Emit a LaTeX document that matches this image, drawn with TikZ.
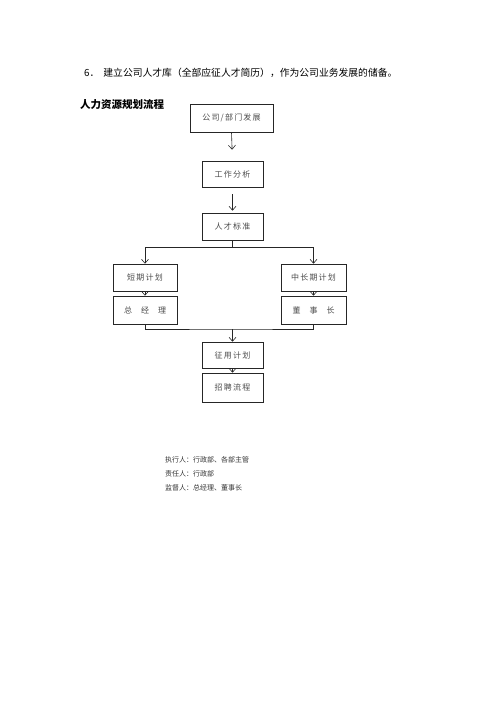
\documentclass[tikz,border=0pt]{standalone}
\usepackage{fontspec}
\usetikzlibrary{arrows.meta}
\newfontfamily\cjk{Noto Sans CJK SC}
\newfontfamily\cjkbox[LetterSpace=15]{Noto Sans CJK SC}
\tikzset{
	caja/.style={draw=black!85, line width=0.6pt, minimum width=61pt, minimum height=27pt, inner sep=0pt, font=\cjkbox\fontsize{8}{10}\selectfont, text=black!70},
	flecha/.style={-{Straight Barb[length=4pt, width=7pt]}, draw=black!85, line width=0.6pt},
	linea/.style={draw=black!85, line width=0.6pt}
}
\begin{document}
\begin{tikzpicture}[x=1pt, y=-1pt]
	% Fondo blanco de la pagina 0..500 x 0..707
	\fill[white] (0,0) rectangle (500,707);
	\useasboundingbox (0,0) rectangle (500,707);
	
	% Texto superior y titulo
	\node[anchor=west, inner sep=0pt, font=\cjk\fontsize{9.8}{12}\selectfont] (punto) at (84,73) {6．\hspace{4pt}建立公司人才库（全部应征人才简历），作为公司业务发展的储备。};
	\node[anchor=west, inner sep=0pt, font=\cjk\bfseries\fontsize{10.5}{12}\selectfont] (titulo) at (80,105) {人力资源规划流程};
	
	% Cajas del flujo
	\node[caja, minimum width=83pt, minimum height=28pt] (desarrollo) at (231.5,118) {公司/部门发展};
	\node[caja, minimum height=26pt] (analisis) at (232.5,174) {工作分析};
	\node[caja] (estandar) at (232.5,226.5) {人才标准};
	\node[caja, minimum width=64pt] (corto) at (145,277.5) {短期计划};
	\node[caja, minimum width=64pt, minimum height=28pt] (gerente) at (145,310) {总\hspace{9pt}经\hspace{9pt}理};
	\node[caja, minimum width=65pt] (largo) at (313.5,277.5) {中长期计划};
	\node[caja, minimum width=65pt, minimum height=28pt] (junta) at (313.5,310) {董\hspace{9pt}事\hspace{9pt}长};
	\node[caja, minimum height=26pt] (plan) at (232.5,355) {征用计划};
	\node[caja, minimum height=29pt] (proceso) at (232.5,387.5) {招聘流程};
	
	% Puntos de division y union
	\coordinate (division) at (232.5,247);
	\coordinate (union) at (232.5,329);
	
	% Flechas
	\draw[flecha, shorten >=11pt] (desarrollo.south) -- (analisis.north);
	\draw[flecha, shorten <=7pt, shorten >=2pt] (analisis.south) -- (estandar.north);
	\draw[linea] (estandar.south) -- (division);
	\draw[flecha] (division) -| (corto.north);
	\draw[flecha] (division) -| (largo.north);
	\draw[flecha] (corto.south) -- (gerente.north);
	\draw[flecha] (largo.south) -- (junta.north);
	\draw[linea] (gerente.south) |- (union) -| (junta.south);
	\draw[flecha] (union) -- (plan.north);
	\draw[flecha] (plan.south) -- (proceso.north);
	
	% Responsables
	\node[anchor=west, align=left, inner sep=0pt, font=\cjk\fontsize{7}{14}\selectfont, text=black!80] (responsables) at (165,474) {执行人：行政部、各部主管\\责任人：行政部\\监督人：总经理、董事长};
	
\end{tikzpicture}
\end{document}
